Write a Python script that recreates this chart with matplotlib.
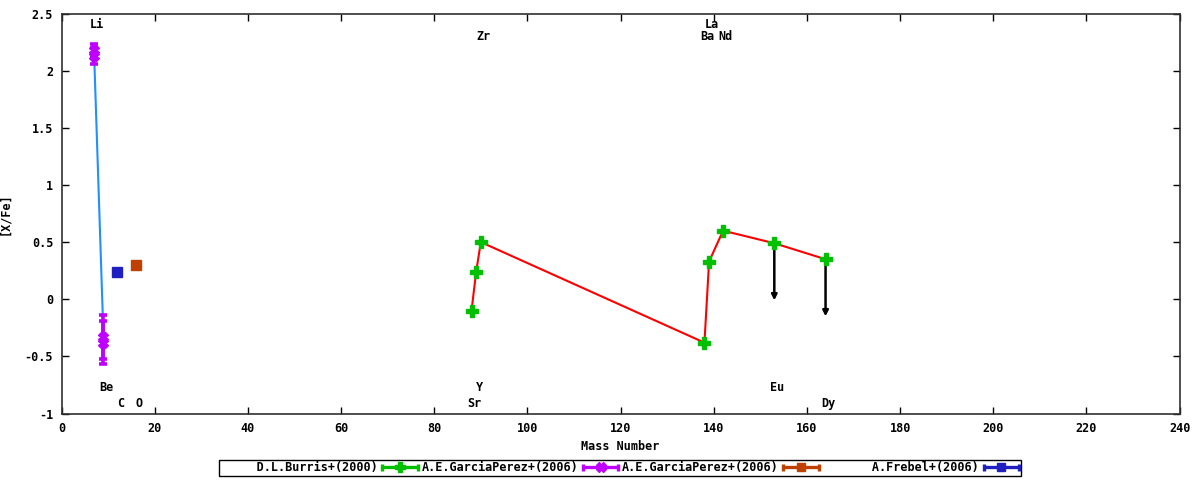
import matplotlib
matplotlib.use('Agg')
import matplotlib.pyplot as plt
from matplotlib.lines import Line2D
from matplotlib.legend_handler import HandlerBase
from matplotlib.ticker import FormatStrFormatter, MultipleLocator

plt.rcParams['font.family'] = ['DejaVu Sans Mono']
plt.rcParams['font.weight'] = 'bold'
plt.rcParams['font.size'] = 8.5

# D.L.Burris+(2000) - heavy elements
burris_mass = [88, 89, 90, 138, 139, 142, 153, 164]
burris_xfe = [-0.10, 0.24, 0.50, -0.38, 0.33, 0.60, 0.49, 0.35]
burris_uplim = [False, False, False, False, False, False, True, True]

# A.E.GarciaPerez+(2006) - Li, Be
gp_mass = [7, 7, 9, 9]
gp_xfe = [2.18, 2.13, -0.33, -0.38]
gp_err = [0.05, 0.07, 0.19, 0.19]

# A.E.GarciaPerez+(2006) - O
gp2_mass = [16]
gp2_xfe = [0.30]

# A.Frebel+(2006) - C
frebel_mass = [12]
frebel_xfe = [0.24]

# element labels: name, mass, y position
top_labels = [('Li', 7, 2.4), ('Zr', 90, 2.3), ('La', 139, 2.4), ('Ba', 138, 2.3), ('Nd', 142, 2.3)]
bottom_labels = [('Be', 9, -0.77), ('C', 12, -0.91), ('O', 16, -0.91), ('Y', 89, -0.77),
                 ('Sr', 88, -0.91), ('Eu', 153, -0.77), ('Dy', 164, -0.91)]

green = '#00c000'
purple = '#c000ff'
orange = '#c04000'
blue = '#2020c0'


# legend sample like gnuplot: horizontal bar with caps and point in the middle
class ErrKey(HandlerBase):
    def create_artists(self, legend, orig, xd, yd, w, h, fontsize, trans):
        c = orig.get_color()
        x0, x1 = -xd, -xd + w
        yc = -yd + h / 2
        kw = dict(color=c, lw=2.4, transform=trans, solid_capstyle='butt')
        arts = [Line2D([x0, x1], [yc, yc], **kw),
                Line2D([x0, x0], [yc - h * 0.45, yc + h * 0.45], **kw),
                Line2D([x1, x1], [yc - h * 0.45, yc + h * 0.45], **kw),
                Line2D([(x0 + x1) / 2], [yc], marker=orig.get_marker(), ms=orig.get_markersize(),
                       color=c, ls='none', transform=trans)]
        return arts


fig = plt.figure(figsize=(12, 4.8), dpi=100)
ax = fig.add_axes([0.0513, 0.1385, 0.9317, 0.8333])

# Burris
ax.plot(burris_mass, burris_xfe, color='red', lw=1.5, zorder=2)
ax.plot(burris_mass, burris_xfe, ls='none', marker='P', ms=8, color=green, zorder=4)
for m, v, up in zip(burris_mass, burris_xfe, burris_uplim):
    if up:
        ax.annotate('', xy=(m, v - 0.5), xytext=(m, v),
                    arrowprops=dict(arrowstyle='-|>', color='k', lw=1.8, mutation_scale=8,
                                    shrinkA=0, shrinkB=0), zorder=3)

# Garcia Perez Li/Be
ax.plot(gp_mass, gp_xfe, color='#1e90ff', lw=1.5, zorder=1)
ax.errorbar(gp_mass, gp_xfe, yerr=gp_err, fmt='X', ms=7, color=purple, ecolor=purple,
            elinewidth=2.6, capsize=3.2, capthick=2.6, zorder=3)

# O and C
ax.plot(gp2_mass, gp2_xfe, ls='none', marker='s', ms=7.5, color=orange, zorder=3)
ax.plot(frebel_mass, frebel_xfe, ls='none', marker='s', ms=7.5, color=blue, zorder=3)

for name, m, y in top_labels + bottom_labels:
    ax.text(m + 0.6, y, name, ha='center', va='center', fontsize=8.5, fontweight='bold')

ax.set_xlim(0, 240)
ax.set_ylim(-1, 2.5)
ax.xaxis.set_major_locator(MultipleLocator(20))
ax.yaxis.set_major_locator(MultipleLocator(0.5))
ax.yaxis.set_major_formatter(FormatStrFormatter('%g'))
ax.tick_params(direction='in', top=True, right=True, length=5, width=1, labelsize=8.5, pad=6)
for s in ax.spines.values():
    s.set_linewidth(1.2)
    s.set_color('#303030')

ax.set_xlabel('Mass Number', fontsize=8.5, fontweight='bold', labelpad=4)
ax.set_ylabel('[X/Fe]', fontsize=8.5, fontweight='bold', labelpad=10)

names = ['D.L.Burris+(2000)', 'A.E.GarciaPerez+(2006)', 'A.E.GarciaPerez+(2006)', 'A.Frebel+(2006)']
width = max(len(n) for n in names)
handles = [Line2D([], [], color=green, marker='P', ms=7),
           Line2D([], [], color=purple, marker='X', ms=7),
           Line2D([], [], color=orange, marker='s', ms=6),
           Line2D([], [], color=blue, marker='s', ms=6)]
leg = fig.legend(handles, [n.rjust(width) for n in names], loc='center',
                 bbox_to_anchor=(0.5167, 0.025), ncol=4, markerfirst=False,
                 fancybox=False, framealpha=1, edgecolor='black', fontsize=8.5,
                 handlelength=3.0, handletextpad=0.4, columnspacing=0.3,
                 borderpad=0.15, handler_map={Line2D: ErrKey()})
leg.get_frame().set_linewidth(1.0)

fig.savefig('out.png', dpi=100)
